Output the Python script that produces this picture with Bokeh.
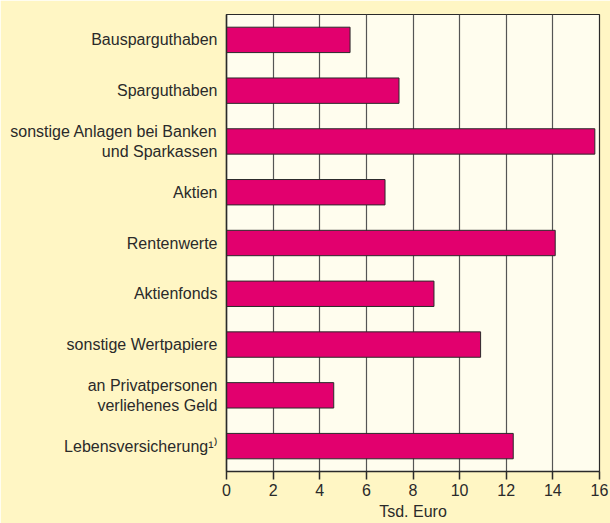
from bokeh.plotting import figure
from bokeh.models import FactorRange, Range1d, ColumnDataSource, FixedTicker
from bokeh.embed import file_html
from bokeh.resources import INLINE

categories = [
    "Bausparguthaben",
    "Sparguthaben",
    "sonstige Anlagen bei Banken\nund Sparkassen",
    "Aktien",
    "Rentenwerte",
    "Aktienfonds",
    "sonstige Wertpapiere",
    "an Privatpersonen\nverliehenes Geld",
    "Lebensversicherung\u00b9\u207e",
]
values = [5.3, 7.4, 15.8, 6.8, 14.1, 8.9, 10.9, 4.6, 12.3]
x_ticks = [0, 2, 4, 6, 8, 10, 12, 14, 16]
x_label = "Tsd. Euro"

OUTER_BG = "#FFF6C4"
INNER_BG = "#FFFDEE"
BAR = "#E2006E"
DARK = "#2a2a2a"
FONT = "Liberation Sans"

src = ColumnDataSource(dict(cat=categories, val=values))

p = figure(
    y_range=FactorRange(factors=list(reversed(categories)), range_padding=0),
    x_range=Range1d(0, 16),
    frame_width=373, frame_height=457,
    min_border_left=226, min_border_right=11, min_border_top=14, min_border_bottom=52,
    output_backend="svg", toolbar_location=None,
    background_fill_color=INNER_BG, border_fill_color=OUTER_BG,
)

p.hbar(y="cat", right="val", left=0, height=0.5, source=src,
       fill_color=BAR, line_color=DARK, line_width=1)

p.outline_line_color = DARK
p.outline_line_width = 1.2

# grid
p.ygrid.grid_line_color = None
p.xgrid.grid_line_color = "#555555"
p.xgrid.grid_line_width = 1.2
p.xgrid.ticker = FixedTicker(ticks=x_ticks)

# x axis
xa = p.xaxis[0]
xa.ticker = FixedTicker(ticks=x_ticks)
xa.axis_line_color = DARK
xa.axis_line_width = 1.5
xa.major_tick_line_color = DARK
xa.major_tick_line_width = 1.5
xa.major_tick_in = 0
xa.major_tick_out = 8
xa.minor_tick_line_color = None
xa.major_label_standoff = 4
xa.major_label_text_font = FONT
xa.major_label_text_font_size = "16px"
xa.major_label_text_color = DARK
xa.axis_label = x_label
xa.axis_label_standoff = 4
xa.axis_label_text_font = FONT
xa.axis_label_text_font_size = "16px"
xa.axis_label_text_font_style = "normal"
xa.axis_label_text_color = DARK

# y axis
ya = p.yaxis[0]
ya.axis_line_color = DARK
ya.axis_line_width = 1.5
ya.major_tick_line_color = None
ya.major_tick_in = 0
ya.major_tick_out = 0
ya.minor_tick_line_color = None
ya.major_label_standoff = 9
ya.major_label_text_font = FONT
ya.major_label_text_font_size = "16px"
ya.major_label_text_color = DARK
ya.major_label_text_align = "right"

open("out.html", "w").write(file_html(p, INLINE))
